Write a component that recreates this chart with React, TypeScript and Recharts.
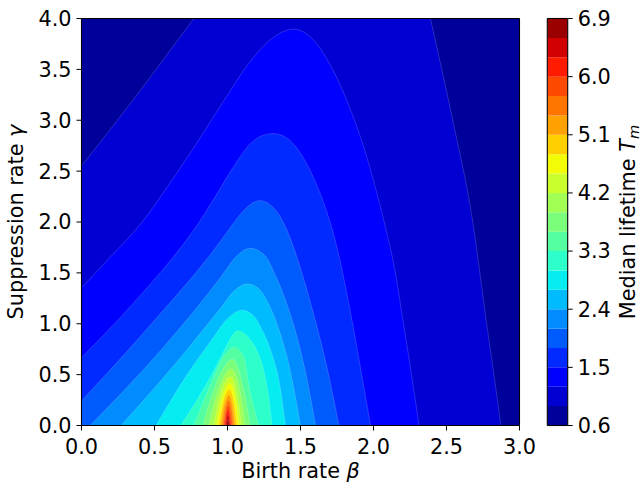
import React from "react";
import { ComposedChart, Area, XAxis, YAxis, Label } from "recharts";

// axis ticks
const betaTicks = [0, 0.5, 1, 1.5, 2, 2.5, 3];
const gammaTicks = [0, 0.5, 1, 1.5, 2, 2.5, 3, 3.5, 4];

// contour levels (colorbar) and jet colours of each band
const levels = [0.6, 0.9, 1.2, 1.5, 1.8, 2.1, 2.4, 2.7, 3.0, 3.3, 3.6, 3.9, 4.2, 4.5, 4.8, 5.1, 5.4, 5.7, 6.0, 6.3, 6.6, 6.9];
const cbTicks = [0.6, 1.5, 2.4, 3.3, 4.2, 5.1, 6.0, 6.9];
const bandColors = [
  "#00009b", "#0000d2", "#0000ff", "#002aff", "#005bff", "#008cff", "#00bcff",
  "#06edf1", "#2dffca", "#54ffa2", "#7bff7b", "#a2ff54", "#caff2d", "#f1fc06",
  "#ffcf00", "#ffa200", "#ff7500", "#ff4800", "#ff1b00", "#d20000", "#9b0000",
];

// contour boundaries [beta, gamma] (region below = T above level)
const t09 = [[0, 2.55], [0.17, 2.86], [0.38, 3.25], [0.77, 4.0], [1.2, 4.8], [1.75, 5.3], [2.25, 4.9], [2.39, 4.0], [2.54, 3.02], [2.68, 2.0], [2.775, 1.0], [2.825, 0.5], [2.873, 0]];
const t12 = [[0, 1.353], [0.2, 1.66], [0.41, 1.99], [0.6, 2.37], [0.8, 2.8], [0.974, 3.19], [1.157, 3.58], [1.3, 3.8], [1.454, 3.895], [1.6, 3.77], [1.72, 3.5], [1.83, 3.15], [1.93, 2.75], [2.02, 2.3], [2.09, 1.9], [2.15, 1.5], [2.2, 1.05], [2.255, 0.55], [2.312, 0]];
const t15 = [[0, 0.667], [0.36, 1.21], [0.722, 1.83], [0.802, 1.99], [0.916, 2.25], [1.031, 2.52], [1.157, 2.77], [1.24, 2.85], [1.317, 2.87], [1.42, 2.81], [1.52, 2.63], [1.6, 2.4], [1.68, 2.1], [1.75, 1.75], [1.81, 1.35], [1.87, 0.9], [1.925, 0.45], [1.98, 0]];
const t18 = [[0, 0.241], [0.48, 1.0], [0.962, 1.83], [1.042, 1.99], [1.13, 2.14], [1.221, 2.21], [1.3, 2.16], [1.37, 2.03], [1.44, 1.8], [1.52, 1.45], [1.6, 1.04], [1.68, 0.58], [1.763, 0]];
const t21 = [[0.058, 0], [0.55, 0.75], [0.95, 1.45], [1.06, 1.66], [1.11, 1.72], [1.157, 1.741], [1.25, 1.68], [1.33, 1.47], [1.41, 1.18], [1.48, 0.85], [1.545, 0.45], [1.603, 0]];
const t24 = [[0.27, 0], [0.65, 0.62], [0.95, 1.15], [1.05, 1.33], [1.09, 1.37], [1.134, 1.392], [1.21, 1.35], [1.28, 1.2], [1.35, 0.95], [1.42, 0.6], [1.5, 0]];
const t27 = [[0.51, 0], [0.733, 0.52], [0.894, 0.846], [1.0, 1.05], [1.1, 1.133], [1.17, 1.09], [1.24, 0.93], [1.3, 0.72], [1.355, 0.42], [1.397, 0]];
const t30 = [[0.68, 0], [0.9, 0.52], [1.0, 0.8], [1.035, 0.89], [1.07, 0.93], [1.14, 0.87], [1.2, 0.74], [1.25, 0.53], [1.28, 0.3], [1.305, 0]];
const t33 = [[0.77, 0], [0.88, 0.385], [0.975, 0.68], [1.045, 0.77], [1.11, 0.68], [1.147, 0.385], [1.215, 0]];
const t36 = [[0.83, 0], [0.9, 0.325], [1.035, 0.65], [1.115, 0.325], [1.155, 0]];
const t39 = [[0.872, 0], [0.922, 0.278], [1.028, 0.555], [1.092, 0.278], [1.12, 0]];
const t42 = [[0.905, 0], [0.94, 0.24], [1.022, 0.48], [1.073, 0.24], [1.095, 0]];
const t45 = [[0.925, 0], [0.953, 0.208], [1.018, 0.415], [1.061, 0.208], [1.08, 0]];
const t48 = [[0.94, 0], [0.962, 0.178], [1.014, 0.355], [1.05, 0.178], [1.066, 0]];
const t51 = [[0.953, 0], [0.97, 0.15], [1.01, 0.3], [1.04, 0.15], [1.053, 0]];
const t54 = [[0.964, 0], [0.977, 0.125], [1.007, 0.25], [1.032, 0.125], [1.042, 0]];
const t57 = [[0.973, 0], [0.983, 0.1], [1.005, 0.2], [1.025, 0.1], [1.033, 0]];
const t60 = [[0.98, 0], [0.987, 0.078], [1.003, 0.155], [1.018, 0.078], [1.025, 0]];
const t63 = [[0.987, 0], [0.9915, 0.055], [1.002, 0.11], [1.013, 0.055], [1.018, 0]];
const t66 = [[0.993, 0], [0.9955, 0.032], [1.001, 0.065], [1.0073, 0.032], [1.01, 0]];

const contours = [t09, t12, t15, t18, t21, t24, t27, t30, t33, t36, t39, t42, t45, t48, t51, t54, t57, t60, t63, t66];
const background = [[0, 4], [3, 4]];

const FONT = "DejaVu Sans";
const FS = 20.8;
const tickStyle = { fill: "#000", fontSize: FS, fontFamily: FONT };
const frame = { stroke: "#000", strokeWidth: 1.1 };
const fmt = (v: number) => v.toFixed(1);
const toRows = (pts: number[][]) => pts.map(([b, g]) => ({ b, g }));
// colorbar: one range area per band, spanning the bar's width
const bandRows = (i: number) => [
  { x: 0, v: [levels[i], levels[i + 1]] },
  { x: 1, v: [levels[i], levels[i + 1]] },
];

const XTitle = (props: any) => {
  const vb = props.viewBox ?? { x: 81.5, y: 425.5, width: 438 };
  return (
    <text x={vb.x + vb.width / 2} y={vb.y + 52.5} textAnchor="middle" fontFamily={FONT} fontSize={FS} fill="#000">
      Birth rate <tspan fontStyle="italic">β</tspan>
    </text>
  );
};

const YTitle = (props: any) => {
  const vb = props.viewBox ?? { x: 21.5, y: 18.5, height: 407 };
  const x = vb.x + 1.8;
  const y = vb.y + vb.height / 2;
  return (
    <text x={x} y={y} transform={`rotate(-90, ${x}, ${y})`} textAnchor="middle" fontFamily={FONT} fontSize={FS} fill="#000">
      Suppression rate <tspan fontStyle="italic">γ</tspan>
    </text>
  );
};

const CbTitle = (props: any) => {
  const vb = props.viewBox ?? { x: 567.7, y: 18.5, height: 407 };
  const x = vb.x + 67.5;
  const y = vb.y + vb.height / 2;
  return (
    <text x={x} y={y} transform={`rotate(-90, ${x}, ${y})`} textAnchor="middle" fontFamily={FONT} fontSize={FS} fill="#000">
      Median lifetime <tspan fontStyle="italic">T</tspan>
      <tspan fontStyle="italic" fontSize={14.6} dy={4}>m</tspan>
    </text>
  );
};

export default function App() {
  return (
    <div style={{ position: "absolute", left: 0, top: 0, width: 642, height: 482, background: "#fff" }}>
      <div style={{ position: "absolute", left: 0, top: 0 }}>
        <ComposedChart width={642} height={482} margin={{ top: 17.5, right: 121.5, bottom: 26.5, left: 21.5 }}>
          <Area
            data={toRows(background)}
            dataKey="g"
            type="linear"
            fill={bandColors[0]}
            fillOpacity={1}
            stroke="none"
            dot={false}
            activeDot={false}
            isAnimationActive={false}
          />
          {contours.map((pts, i) => (
            <Area
              key={i}
              data={toRows(pts)}
              dataKey="g"
              type="monotone"
              fill={bandColors[i + 1]}
              fillOpacity={1}
              stroke="#ffffff"
              strokeOpacity={0.28}
              strokeWidth={0.6}
              dot={false}
              activeDot={false}
              isAnimationActive={false}
            />
          ))}
          <XAxis
            type="number"
            dataKey="b"
            domain={[0, 3]}
            ticks={betaTicks}
            allowDataOverflow
            tickFormatter={fmt}
            height={30}
            tickSize={5}
            tickMargin={9}
            stroke="#000"
            axisLine={frame}
            tick={tickStyle}
          >
            <Label content={XTitle} />
          </XAxis>
          <YAxis
            type="number"
            domain={[0, 4]}
            ticks={gammaTicks}
            allowDataOverflow
            tickFormatter={fmt}
            width={60}
            tickSize={5}
            tickMargin={5}
            stroke="#000"
            axisLine={frame}
            tick={tickStyle}
          >
            <Label content={YTitle} />
          </YAxis>
          <XAxis xAxisId="top" orientation="top" type="number" dataKey="b" domain={[0, 3]} allowDataOverflow height={1} tick={false} tickLine={false} axisLine={frame} />
          <YAxis yAxisId="right" orientation="right" type="number" domain={[0, 4]} allowDataOverflow width={1} tick={false} tickLine={false} axisLine={frame} />
        </ComposedChart>
      </div>
      <div style={{ position: "absolute", left: 0, top: 0 }}>
        <ComposedChart width={642} height={482} margin={{ top: 17.5, right: 14.3, bottom: 55.5, left: 546.3 }}>
          {bandColors.map((c, i) => (
            <Area
              key={i}
              data={bandRows(i)}
              dataKey="v"
              type="linear"
              fill={c}
              fillOpacity={1}
              stroke="none"
              dot={false}
              activeDot={false}
              isAnimationActive={false}
            />
          ))}
          <XAxis type="number" dataKey="x" domain={[0, 1]} allowDataOverflow height={1} tick={false} tickLine={false} axisLine={frame} />
          <XAxis xAxisId="top" orientation="top" type="number" dataKey="x" domain={[0, 1]} allowDataOverflow height={1} tick={false} tickLine={false} axisLine={frame} />
          <YAxis yAxisId="left" type="number" domain={[0.6, 6.9]} allowDataOverflow width={1} tick={false} tickLine={false} axisLine={frame} />
          <YAxis
            type="number"
            orientation="right"
            domain={[0.6, 6.9]}
            ticks={cbTicks}
            allowDataOverflow
            tickFormatter={fmt}
            width={60}
            tickSize={5}
            tickMargin={5}
            stroke="#000"
            axisLine={frame}
            tick={tickStyle}
          >
            <Label content={CbTitle} />
          </YAxis>
        </ComposedChart>
      </div>
    </div>
  );
}
